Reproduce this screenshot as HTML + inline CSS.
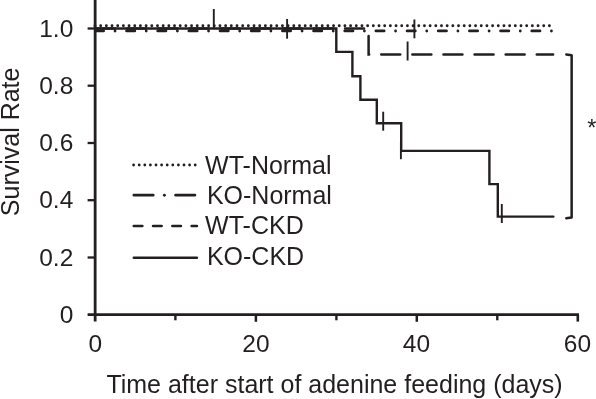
<!DOCTYPE html>
<html>
<head>
<meta charset="utf-8">
<title>Survival Rate</title>
<style>
html,body{margin:0;padding:0;background:#fff;}
body{width:596px;height:399px;overflow:hidden;}
svg{display:block;will-change:transform;}
text{font-family:"Liberation Sans",sans-serif;fill:#231f20;}
</style>
</head>
<body>
<svg width="596" height="399" viewBox="0 0 596 399">
<rect width="596" height="399" fill="#ffffff"/>

<!-- WT-Normal dotted -->
<line x1="95" y1="25.7" x2="553" y2="25.7" stroke="#231f20" stroke-width="2.9" stroke-dasharray="0 5.68" stroke-linecap="round"/>

<!-- KO-Normal dash-dot -->
<line x1="95.4" y1="30.9" x2="553.6" y2="30.9" stroke="#231f20" stroke-width="2.8" stroke-dasharray="8.2 22.97" stroke-linecap="round"/>
<line x1="115.05" y1="31" x2="553.6" y2="31" stroke="#231f20" stroke-width="2.8" stroke-dasharray="0 31.17" stroke-linecap="round"/>

<!-- WT-CKD long dash -->
<path d="M95 28.5 H368.6 V54.5 H553.1" fill="none" stroke="#231f20" stroke-width="2.5" stroke-dasharray="19 12.1" stroke-dashoffset="-1.25" stroke-linecap="round"/>

<!-- KO-CKD solid -->
<path d="M95 28.5 H336.3 V51.9 H352.4 V76.2 H360.4 V99.7 H376.8 V123.3 H401.2 V150.9 H489.4 V184.1 H497.8 V216.6 H553.4" fill="none" stroke="#231f20" stroke-width="2.4" stroke-linejoin="miter" stroke-linecap="round"/>

<!-- censor marks -->
<g stroke="#231f20" stroke-width="1.9" fill="none">
<line x1="213.8" y1="9" x2="213.8" y2="28"/>
<line x1="287.1" y1="19" x2="287.1" y2="38.7"/>
<line x1="414.4" y1="19.5" x2="414.4" y2="38.3"/>
<line x1="407.6" y1="41.5" x2="407.6" y2="60.5"/>
<line x1="383.2" y1="111.7" x2="383.2" y2="130.7"/>
<line x1="400.9" y1="141.5" x2="400.9" y2="159.2"/>
<line x1="501.8" y1="204" x2="501.8" y2="223"/>
</g>

<!-- significance bracket -->
<path d="M566.3 54.5 L571.65 55.2 V217.6 L566.3 218.3" fill="none" stroke="#231f20" stroke-width="2.5" stroke-linecap="round" stroke-linejoin="round"/>
<text x="587.3" y="136.4" font-size="23.5">*</text>

<!-- axes -->
<g stroke="#231f20" fill="none">
<line x1="95.15" y1="0" x2="95.15" y2="321.6" stroke-width="2.8"/>
<line x1="87.6" y1="314.7" x2="579" y2="314.7" stroke-width="2.7"/>
<!-- y ticks -->
<g stroke-width="2.3">
<line x1="87.6" y1="28.5" x2="95" y2="28.5"/>
<line x1="87.6" y1="85.7" x2="95" y2="85.7"/>
<line x1="87.6" y1="143" x2="95" y2="143"/>
<line x1="87.6" y1="200.2" x2="95" y2="200.2"/>
<line x1="87.6" y1="257.5" x2="95" y2="257.5"/>
</g>
<!-- x ticks -->
<g stroke-width="2.4">
<line x1="175.4" y1="314.7" x2="175.4" y2="320.3"/>
<line x1="255.9" y1="314.7" x2="255.9" y2="321.8" stroke-width="2.5"/>
<line x1="336.4" y1="314.7" x2="336.4" y2="320.3"/>
<line x1="416.8" y1="314.7" x2="416.8" y2="321.8" stroke-width="2.5"/>
<line x1="497.3" y1="314.7" x2="497.3" y2="320.3"/>
<line x1="577.8" y1="314.7" x2="577.8" y2="321.6" stroke-width="2.6"/>
</g>
</g>

<!-- y tick labels -->
<g font-size="24.5" text-anchor="end">
<text x="73.3" y="36.7">1.0</text>
<text x="73.3" y="93.9">0.8</text>
<text x="73.3" y="151.2">0.6</text>
<text x="73.3" y="208.4">0.4</text>
<text x="73.3" y="265.7">0.2</text>
<text x="73.3" y="322.9">0</text>
</g>

<!-- x tick labels -->
<g font-size="24.5" text-anchor="middle">
<text x="95.2" y="352">0</text>
<text x="256" y="352">20</text>
<text x="416.5" y="352">40</text>
<text x="577.5" y="352">60</text>
</g>

<!-- axis titles -->
<text x="106.4" y="392.8" font-size="25">Time after start of adenine feeding (days)</text>
<text transform="translate(19.3 216.2) rotate(-90)" font-size="25">Survival Rate</text>

<!-- legend -->
<g stroke="#231f20" fill="none" stroke-linecap="round">
<line x1="133.6" y1="165" x2="197" y2="165" stroke-width="2.8" stroke-dasharray="0 5.6"/>
<line x1="133.9" y1="195.2" x2="195" y2="195.2" stroke-width="2.8" stroke-dasharray="19.3 22.4"/>
<line x1="164.4" y1="195.2" x2="165" y2="195.2" stroke-width="2.9" stroke-dasharray="0 40"/>
<line x1="133.8" y1="226" x2="196.9" y2="226" stroke-width="2.7" stroke-dasharray="8.5 10.8"/>
<line x1="133.8" y1="257.8" x2="196.9" y2="257.8" stroke-width="2.5"/>
</g>
<g font-size="25">
<text x="205.1" y="173.8">WT-Normal</text>
<text x="206.9" y="204">KO-Normal</text>
<text x="205.1" y="234.2">WT-CKD</text>
<text x="206.9" y="264.8">KO-CKD</text>
</g>
</svg>
</body>
</html>
